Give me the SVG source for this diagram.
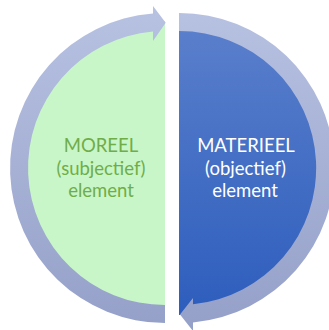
<svg xmlns="http://www.w3.org/2000/svg" width="329" height="330" viewBox="0 0 329 330">
  <defs>
    <linearGradient id="ringGrad" gradientUnits="userSpaceOnUse" x1="0" y1="0" x2="0" y2="330">
      <stop offset="0" stop-color="#b8c2e2"/>
      <stop offset="1" stop-color="#95a0c9"/>
    </linearGradient>
    <linearGradient id="blueGrad" gradientUnits="userSpaceOnUse" x1="0" y1="20" x2="0" y2="316">
      <stop offset="0" stop-color="#5b80cc"/>
      <stop offset="1" stop-color="#2d5dbd"/>
    </linearGradient>
    <style>
      .lbl { font-family: Lato, "Liberation Sans", Arial, sans-serif; font-size: 18.5px; text-anchor: middle; }
      .green-lbl { fill: #70ad47; }
      .white-lbl { fill: #ffffff; }
      .ring { fill: url(#ringGrad); }
    </style>
  </defs>
  <rect width="329" height="330" fill="#ffffff"/>

  <g id="node-moreel">
    <path d="M165,21 A147,147 0 0 0 165,315 Z" fill="#c8f6c9"/>
  </g>
  <g id="node-materieel">
    <path d="M179,21 A147,147 0 0 1 179,315 Z" fill="url(#blueGrad)"/>
  </g>

  <g id="connectors">
    <path class="ring" d="M165,305 L165,323 A155,155 0 0 1 153,13.47 L153,6 L165.7,22.7 L153,41 L153,31.53 A137,137 0 0 0 165,305 Z"/>
    <path class="ring" d="M179,13 A155,155 0 0 1 193,322.4 L193,331 L180,314.6 L193,298 L193,304.3 A137,137 0 0 0 179,31 Z"/>
  </g>

  <g id="labels-moreel">
    <text class="lbl green-lbl" x="101" y="152.3">MOREEL</text>
    <text class="lbl green-lbl" x="101" y="174.6">(subjectief)</text>
    <text class="lbl green-lbl" x="101" y="196.8">element</text>
  </g>
  <g id="labels-materieel">
    <text class="lbl white-lbl" x="246" y="152.3">MATERIEEL</text>
    <text class="lbl white-lbl" x="245.5" y="174.6">(objectief)</text>
    <text class="lbl white-lbl" x="245" y="196.8">element</text>
  </g>
</svg>
